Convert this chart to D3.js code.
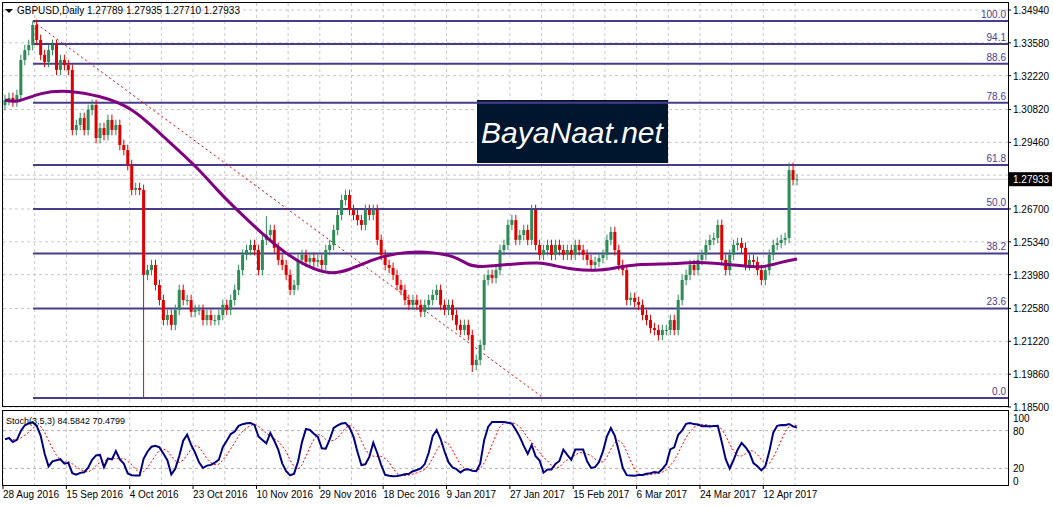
<!DOCTYPE html>
<html>
<head>
<meta charset="utf-8">
<script src="https://cdn.jsdelivr.net/npm/d3@7"></script>
<style>
body { margin: 0; background: #fff; }
text { font-family: "Liberation Sans", Arial, sans-serif; }
</style>
</head>
<body>
<svg id="chart" width="1053" height="507"></svg>
<script>
// daily closes, GBPUSD
var closes = [
	1.3121,1.3130,1.3115,1.3142,1.3287,1.3328,1.3349,1.3432,1.3370,1.3308,1.3279,1.3328,1.3349,1.3246,1.3287,1.3266,1.3246,
	1.2997,1.3018,1.3047,1.2997,1.3080,1.3101,1.2964,1.3005,1.2976,1.3039,1.2997,1.3018,1.2935,1.2914,1.2852,1.2749,1.2757,1.2749,
	1.2397,1.2417,1.2438,1.2355,1.2293,1.2210,1.2231,1.2190,1.2252,1.2335,
	1.2293,1.2293,1.2244,1.2252,1.2252,1.2210,1.2231,1.2210,1.2210,1.2231,
	1.2273,1.2252,1.2293,1.2335,1.2417,1.2480,1.2500,1.2521,1.2500,1.2417,
	1.2542,1.2562,1.2583,1.2509,1.2459,1.2438,1.2397,1.2335,1.2355,1.2459,
	1.2480,1.2451,1.2467,1.2451,1.2459,1.2438,1.2500,1.2521,1.2583,1.2645,
	1.2707,1.2728,1.2666,1.2645,1.2624,1.2604,1.2666,1.2645,1.2666,1.2542,
	1.2480,1.2438,1.2426,1.2397,1.2355,1.2335,1.2293,1.2273,1.2293,1.2273,
	1.2244,1.2273,1.2293,1.2314,1.2335,1.2273,1.2252,1.2273,1.2231,1.2190,
	1.2169,1.2190,1.2148,1.2024,1.2045,1.2107,1.2376,1.2397,1.2384,1.2417,
	1.2500,1.2521,1.2604,1.2624,1.2542,1.2562,1.2583,1.2542,1.2666,1.2521,
	1.2480,1.2500,1.2521,1.2480,1.2521,1.2500,1.2480,1.2500,1.2480,1.2521,
	1.2500,1.2480,1.2459,1.2438,1.2451,1.2467,1.2480,1.2542,1.2575,1.2500,
	1.2438,1.2417,1.2293,1.2302,1.2285,1.2273,1.2231,1.2210,1.2177,1.2169,
	1.2148,1.2169,1.2169,1.2210,1.2169,1.2293,1.2376,1.2397,1.2438,1.2417,
	1.2459,1.2480,1.2521,1.2542,1.2550,1.2604,1.2459,1.2417,1.2480,1.2521,
	1.2529,1.2509,1.2438,1.2459,1.2451,1.2417,1.2376,1.2417,1.2480,1.2521,
	1.2529,1.2542,1.2550,1.2831,1.2790,1.2793
];
var firstOpen = 1.3100;
var wick = 0.0022;
// bars whose high/low stand out
var highOverride = { 7: 1.3448, 198: 1.2862, 199: 1.2862, 66: 1.2640 };
var lowOverride = { 35: 1.1887, 118: 1.1995 };

// 50-day average, sampled [bar, value]
var maPoints = [[0,1.3121],[3,1.3109],[9,1.3154],[16,1.3162],[24,1.3138],[32,1.3093],[40,1.2969],[48,1.2852],
	[54,1.2741],[57,1.2691],[65,1.2566],[71,1.2484],[76,1.2434],[82,1.2397],[87,1.2417],[93,1.2463],[99,1.2488],
	[106,1.2496],[114,1.2475],[117,1.2434],[121,1.2430],[128,1.2442],[135,1.2450],[139,1.2434],[143,1.2421],
	[149,1.2413],[154,1.2425],[159,1.2442],[169,1.2442],[174,1.2450],[179,1.2446],[184,1.2438],[189,1.2430],
	[192,1.2430],[196,1.2450],[200,1.2463]];

var fibLabels = ["100.0","94.1","88.6","78.6","61.8","50.0","38.2","23.6","0.0"];
var fibPrices = [1.3448,1.3353,1.3271,1.3110,1.2852,1.2670,1.2486,1.2258,1.1887];
var trendLine = [[7,1.3448],[136,1.1887]];

var priceTicks = ["1.34940","1.33580","1.32220","1.30820","1.29460","1.28100","1.26700","1.25340","1.23980","1.22580","1.21220","1.19860","1.18500"];
var dateLabels = ["28 Aug 2016","15 Sep 2016","4 Oct 2016","23 Oct 2016","10 Nov 2016","29 Nov 2016","18 Dec 2016","9 Jan 2017","27 Jan 2017","15 Feb 2017","6 Mar 2017","24 Mar 2017","12 Apr 2017"];
var stochLevels = [100, 80, 20, 0];
var lastPrice = 1.27933;

var svg = d3.select("#chart");
var N = closes.length;
var x = d3.scaleLinear().domain([0, N - 1]).range([5, 797]);
var y = d3.scaleLinear().domain([1.185, 1.3494]).range([407, 10]);
var ys = d3.scaleLinear().domain([0, 100]).range([481, 418]);

var bars = closes.map(function (c, i) {
	var o = i === 0 ? firstOpen : closes[i - 1];
	var h = highOverride[i] !== undefined ? highOverride[i] : Math.max(o, c) + wick;
	var l = lowOverride[i] !== undefined ? lowOverride[i] : Math.min(o, c) - wick;
	return { i: i, o: o, c: c, h: h, l: l };
});

// stochastic from the bars
var K = 5, slow = 3, dper = 5;
var rawK = bars.map(function (b, i) {
	var win = bars.slice(Math.max(0, i - K + 1), i + 1);
	var hh = d3.max(win, function (d) { return d.h; }), ll = d3.min(win, function (d) { return d.l; });
	return { c: b.c - ll, r: hh - ll };
});
var mainK = rawK.map(function (r, i) {
	var win = rawK.slice(Math.max(0, i - slow + 1), i + 1);
	return 100 * d3.sum(win, function (d) { return d.c; }) / d3.sum(win, function (d) { return d.r; });
});
var sigD = mainK.map(function (v, i) { return d3.mean(mainK.slice(Math.max(0, i - dper + 1), i + 1)); });

// grid
var gridX = d3.range(0, N, 8);
svg.selectAll(".vgrid").data(gridX).join("line")
	.attr("x1", function (d) { return x(d) - 2; }).attr("x2", function (d) { return x(d) - 2; })
	.attr("y1", 3).attr("y2", 406)
	.attr("stroke", "#c8c8c8").attr("stroke-dasharray", "3,3");
svg.selectAll(".vgrid2").data(gridX).join("line")
	.attr("x1", function (d) { return x(d) - 2; }).attr("x2", function (d) { return x(d) - 2; })
	.attr("y1", 411).attr("y2", 485)
	.attr("stroke", "#c8c8c8").attr("stroke-dasharray", "3,3");
svg.selectAll(".hgrid").data(priceTicks).join("line")
	.attr("x1", 3).attr("x2", 1008)
	.attr("y1", function (d) { return y(+d); }).attr("y2", function (d) { return y(+d); })
	.attr("stroke", "#c8c8c8").attr("stroke-dasharray", "3,3");
svg.selectAll(".sgrid").data([80, 20]).join("line")
	.attr("x1", 3).attr("x2", 1008)
	.attr("y1", function (d) { return ys(d); }).attr("y2", function (d) { return ys(d); })
	.attr("stroke", "#b0b0b0").attr("stroke-dasharray", "3,3");

// watermark
svg.append("rect").attr("x", 477).attr("y", 100).attr("width", 191).attr("height", 63).attr("fill", "#00152e");
svg.append("text").attr("x", 572).attr("y", 143).attr("text-anchor", "middle")
	.attr("fill", "#fff").attr("font-size", 30).attr("font-style", "italic")
	.style("font-family", "'Liberation Sans Narrow', 'Liberation Sans', sans-serif")
	.text("BayaNaat.net");

// last price line
svg.append("line").attr("x1", 3).attr("x2", 1008).attr("y1", y(lastPrice)).attr("y2", y(lastPrice)).attr("stroke", "#d0d0d0");

// fibonacci levels
svg.selectAll(".fib").data(fibPrices).join("line")
	.attr("x1", 33).attr("x2", 1008)
	.attr("y1", function (d) { return y(d); }).attr("y2", function (d) { return y(d); })
	.attr("stroke", "#483d8b").attr("stroke-width", 2);
svg.selectAll(".fibt").data(fibPrices).join("text")
	.attr("x", 1006).attr("y", function (d) { return y(d) - 3; })
	.attr("text-anchor", "end").attr("font-size", 10).attr("fill", "#483d8b")
	.text(function (d, i) { return fibLabels[i]; });

// trend line
svg.append("line")
	.attr("x1", x(trendLine[0][0])).attr("y1", y(trendLine[0][1]))
	.attr("x2", x(trendLine[1][0])).attr("y2", y(trendLine[1][1]))
	.attr("stroke", "#e00000").attr("stroke-dasharray", "2,3");

// candles
var col = function (d) { return d.c >= d.o ? "#2e8b57" : "#e00000"; };
svg.selectAll(".wick").data(bars).join("line")
	.attr("x1", function (d) { return x(d.i); }).attr("x2", function (d) { return x(d.i); })
	.attr("y1", function (d) { return y(d.h); }).attr("y2", function (d) { return y(d.l); })
	.attr("stroke", col);
svg.selectAll(".body").data(bars).join("rect")
	.attr("x", function (d) { return x(d.i) - 1.5; }).attr("width", 3)
	.attr("y", function (d) { return y(Math.max(d.o, d.c)); })
	.attr("height", function (d) { return Math.max(1, Math.abs(y(d.o) - y(d.c))); })
	.attr("fill", col);

// moving average
svg.append("path").datum(maPoints)
	.attr("d", d3.line().x(function (d) { return x(d[0]); }).y(function (d) { return y(d[1]); }).curve(d3.curveBasis))
	.attr("fill", "none").attr("stroke", "#800080").attr("stroke-width", 3);

// stochastic
svg.append("path").datum(sigD)
	.attr("d", d3.line().x(function (d, i) { return x(i); }).y(function (d) { return ys(d); }))
	.attr("fill", "none").attr("stroke", "#ff0000").attr("stroke-dasharray", "2,2");
svg.append("path").datum(mainK)
	.attr("d", d3.line().x(function (d, i) { return x(i); }).y(function (d) { return ys(d); }))
	.attr("fill", "none").attr("stroke", "#000080").attr("stroke-width", 2);

// frames
svg.append("rect").attr("x", 2.5).attr("y", 2.5).attr("width", 1006).attr("height", 404).attr("fill", "none").attr("stroke", "#000");
svg.append("rect").attr("x", 2.5).attr("y", 410.5).attr("width", 1006).attr("height", 75).attr("fill", "none").attr("stroke", "#000");

// price axis (1.28100 sits under the last-price box)
svg.selectAll(".pt").data(priceTicks.filter(function (d) { return Math.abs(+d - lastPrice) > 0.004; })).join("text")
	.attr("x", 1013).attr("y", function (d) { return y(+d) + 4; })
	.attr("font-size", 10).text(function (d) { return d; });
svg.selectAll(".ptk").data(priceTicks).join("line")
	.attr("x1", 1008).attr("x2", 1011)
	.attr("y1", function (d) { return y(+d); }).attr("y2", function (d) { return y(+d); }).attr("stroke", "#000");
svg.append("rect").attr("x", 1009).attr("y", y(lastPrice) - 7).attr("width", 43).attr("height", 14).attr("fill", "#000");
svg.append("text").attr("x", 1013).attr("y", y(lastPrice) + 4).attr("font-size", 10).attr("fill", "#fff").text("1.27933");

// stoch axis
svg.selectAll(".st").data(stochLevels).join("text")
	.attr("x", 1013).attr("y", function (d) { return ys(d) + 4; })
	.attr("font-size", 10).text(function (d) { return d; });

// date axis
svg.selectAll(".dt").data(dateLabels).join("text")
	.attr("x", function (d, i) { return x(i * 16) - 2; }).attr("y", 498)
	.attr("font-size", 10).text(function (d) { return d; });
svg.selectAll(".dtk").data(dateLabels).join("line")
	.attr("x1", function (d, i) { return x(i * 16) - 2; }).attr("x2", function (d, i) { return x(i * 16) - 2; })
	.attr("y1", 485).attr("y2", 489).attr("stroke", "#000");

// captions
svg.append("path").attr("d", "M5,9 L13,9 L9,13 Z").attr("fill", "#000");
svg.append("text").attr("x", 17).attr("y", 14).attr("font-size", 10).text("GBPUSD,Daily  1.27789 1.27935 1.27710 1.27933");
svg.append("text").attr("x", 6).attr("y", 424).attr("font-size", 9).text("Stoch(3,5,3) 84.5842 70.4799");
</script>
</body>
</html>
